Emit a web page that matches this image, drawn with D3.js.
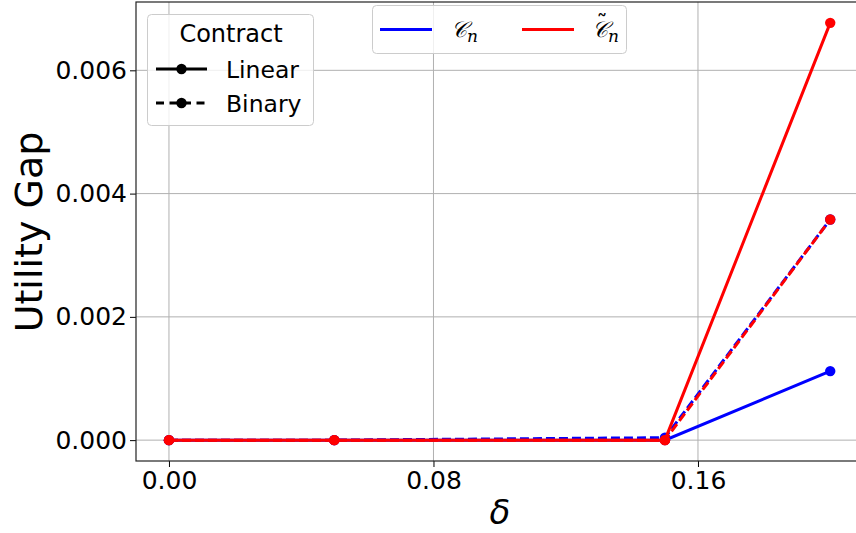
<!DOCTYPE html>
<html><head><meta charset="utf-8">
<script src="https://cdn.jsdelivr.net/npm/d3@7"></script>
<style>body{margin:0;background:#fff}svg{display:block;font-family:"DejaVu Sans",sans-serif}</style>
</head><body><svg id="c" width="856" height="533"></svg>
<script>
const deltas = [0, 0.05, 0.15, 0.2];
const blueLinear = [0, 0, 0, 0.00112];
const blueBinary = [0, 0, 0.00004, 0.00358];
const redLinear = [0, 0, 0, 0.00677];
const redBinary = [0, 0, 0, 0.00358];
const xTicks = [0, 0.08, 0.16];
const yTicks = [0, 0.002, 0.004, 0.006];
const seriesList = [
  {name:"blue linear", values: blueLinear, color:"#0000ff", dash:null},
  {name:"blue binary", values: blueBinary, color:"#0000ff", dash:"9,4"},
  {name:"red linear", values: redLinear, color:"#ff0000", dash:null},
  {name:"red binary", values: redBinary, color:"#ff0000", dash:"9,4"}
];

const svg = d3.select("#c");
const x = d3.scaleLinear().domain([-0.01, 0.21]).range([135.9, 863.3]);
const y = d3.scaleLinear().domain([-0.0003385, 0.0071085]).range([461, 2]);

// grid
svg.append("g").selectAll("line").data(xTicks).join("line")
  .attr("x1", d=>x(d)).attr("x2", d=>x(d)).attr("y1", 2).attr("y2", 461)
  .attr("stroke", "#b0b0b0").attr("stroke-width", 1);
svg.append("g").selectAll("line").data(yTicks).join("line")
  .attr("y1", d=>y(d)).attr("y2", d=>y(d)).attr("x1", 136).attr("x2", 863)
  .attr("stroke", "#b0b0b0").attr("stroke-width", 1);

// axes
const xAxis = svg.append("g").attr("transform","translate(0,461)")
  .call(d3.axisBottom(x).tickValues(xTicks).tickFormat(d3.format(".2f")).tickSize(6).tickPadding(4));
const yAxis = svg.append("g").attr("transform","translate(136,0)")
  .call(d3.axisLeft(y).tickValues(yTicks).tickFormat(d3.format(".3f")).tickSize(6).tickPadding(3));
[xAxis,yAxis].forEach(a=>{
  a.selectAll("text").attr("font-size", 25).attr("fill","#000").attr("font-family","DejaVu Sans");
  a.selectAll("line").attr("stroke","#000").attr("stroke-width",1);
  a.select(".domain").remove();
});
// spines
svg.append("rect").attr("x",136).attr("y",2).attr("width",727).attr("height",459)
  .attr("fill","none").attr("stroke","#222").attr("stroke-width",1.2);

// lines
const line = d3.line().x((d,i)=>x(deltas[i])).y(d=>y(d));
const g = svg.append("g");
seriesList.forEach(s=>{
  g.append("path").datum(s.values).attr("d", line).attr("fill","none")
    .attr("stroke", s.color).attr("stroke-width", 3)
    .attr("stroke-dasharray", s.dash);
  g.append("g").selectAll("circle").data(s.values).join("circle")
    .attr("cx",(d,i)=>x(deltas[i])).attr("cy",d=>y(d)).attr("r",5.2).attr("fill",s.color);
});

// legend 1: Contract
const l1 = svg.append("g");
l1.append("rect").attr("x",147.5).attr("y",14.5).attr("width",166).attr("height",111).attr("rx",4)
  .attr("fill","rgba(255,255,255,0.8)").attr("stroke","#cccccc");
l1.append("text").attr("x",231).attr("y",42).attr("text-anchor","middle").attr("font-size",24).text("Contract");
[["Linear",null,69],["Binary","9,4",103]].forEach(([lab,dash,yy])=>{
  l1.append("line").attr("x1",156).attr("x2",207).attr("y1",yy).attr("y2",yy)
    .attr("stroke","#000").attr("stroke-width",3).attr("stroke-dasharray",dash ? "8,5.5" : null);
  l1.append("circle").attr("cx",181.5).attr("cy",yy).attr("r",5.2).attr("fill","#000");
  l1.append("text").attr("x",226).attr("y",yy+8.5).attr("font-size",23.5).text(lab);
});

// legend 2: series
const l2 = svg.append("g");
l2.append("rect").attr("x",372.5).attr("y",5.5).attr("width",254).attr("height",48).attr("rx",4)
  .attr("fill","rgba(255,255,255,0.8)").attr("stroke","#cccccc");
[["#0000ff",380,451,false],["#ff0000",522,592,true]].forEach(([c,x0,tx,tilde])=>{
  l2.append("line").attr("x1",x0).attr("x2",x0+52).attr("y1",29.5).attr("y2",29.5)
    .attr("stroke",c).attr("stroke-width",3);
  const t = l2.append("text").attr("x",tx).attr("y",37).attr("font-size",22).attr("font-family","DejaVu Serif");
  t.append("tspan").attr("font-style","italic").text("𝒞");
  t.append("tspan").attr("font-style","italic").attr("font-size",17).attr("dy",5).text("n");
  if (tilde) l2.append("text").attr("x",tx+10).attr("y",30).attr("text-anchor","middle")
    .attr("font-size",22).attr("font-family","DejaVu Sans").text("˜");
});

// axis labels
svg.append("text").attr("x",500).attr("y",524).attr("text-anchor","middle").attr("font-size",34)
  .attr("font-style","italic").attr("font-family","DejaVu Sans").text("δ");
svg.append("text").attr("transform","translate(42,232) rotate(-90)").attr("text-anchor","middle")
  .attr("font-size",38).text("Utility Gap");
</script></body></html>
